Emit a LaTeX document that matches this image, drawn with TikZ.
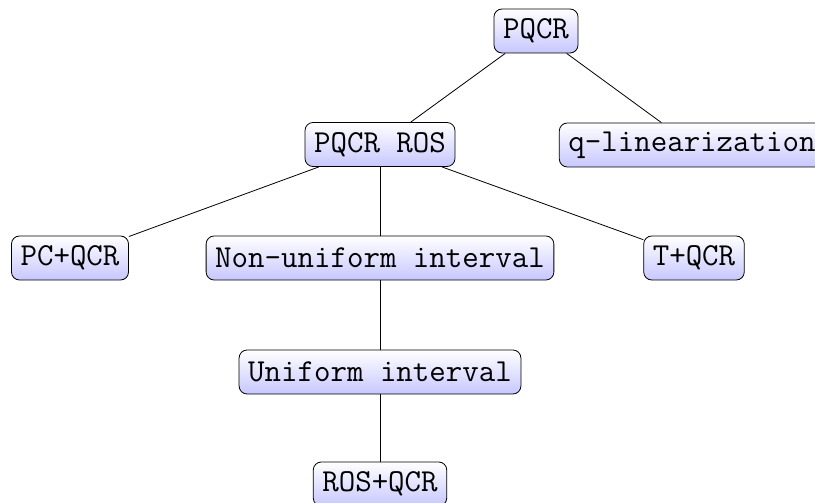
\documentclass[tikz,border=0pt]{standalone}
\begin{document}
\begin{tikzpicture}[x=0.75pt,y=-0.75pt,
  tnode/.style={draw, rounded corners=6pt, top color=white, bottom color=blue!22,
    font=\fontsize{24}{28}\selectfont\ttfamily, inner xsep=6.8pt, minimum height=33pt, line width=0.6pt},
  tedge/.style={line width=0.6pt}]
\useasboundingbox (0,0) rectangle (815,503);
\node[tnode] (root) at (536,31) {PQCR};
\node[tnode] (ros) at (380,144.5) {PQCR ROS};
\node[tnode] (qlin) at (692,145) {q-linearization};
\node[tnode] (pc) at (70,258) {PC+QCR};
\node[tnode] (non) at (380,258) {Non-uniform interval};
\node[tnode] (t) at (694,258) {T+QCR};
\node[tnode] (uni) at (380,372) {Uniform interval};
\node[tnode] (rq) at (380,484) {ROS+QCR};
\draw[tedge] (root) -- (ros);
\draw[tedge] (root) -- (qlin);
\draw[tedge] (ros) -- (pc);
\draw[tedge] (ros) -- (non);
\draw[tedge] (ros) -- (t);
\draw[tedge] (non) -- (uni);
\draw[tedge] (uni) -- (rq);
\end{tikzpicture}
\end{document}
